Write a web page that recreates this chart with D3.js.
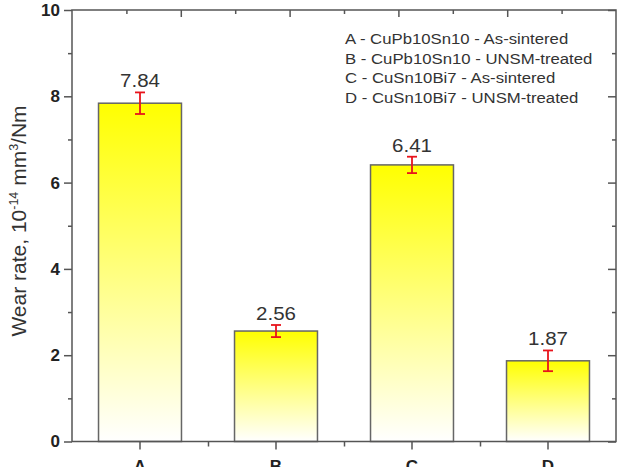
<!DOCTYPE html>
<html>
<head>
<meta charset="utf-8">
<script src="https://cdn.jsdelivr.net/npm/d3@7"></script>
<style>
  body { margin: 0; background: #fff; }
  svg { display: block; font-family: "Liberation Sans", Arial, sans-serif; }
</style>
</head>
<body>
<div id="chart-area"></div>
<script>
// data
var categories = ["A", "B", "C", "D"]
var values = [7.84, 2.56, 6.41, 1.87]
var errors = [0.25, 0.14, 0.19, 0.24]
var legendLabels = [
  "A - CuPb10Sn10 - As-sintered",
  "B - CuPb10Sn10 - UNSM-treated",
  "C - CuSn10Bi7 - As-sintered",
  "D - CuSn10Bi7 - UNSM-treated"
]
var yMajor = [0, 2, 4, 6, 8, 10]
var yMinor = [1, 3, 5, 7, 9]

var width = 624
var height = 467
var margin = {top: 10, right: 8, bottom: 25.5, left: 72}
var axisColor = "#555"
var stretch = 1.08   // the source picture is a bit wider than tall

var svg = d3.select("#chart-area").append("svg")
  .attr("width", width)
  .attr("height", height)

var defs = svg.append("defs")
var grad = defs.append("linearGradient")
  .attr("id", "barFill")
  .attr("x1", 0).attr("y1", 0).attr("x2", 0).attr("y2", 1)
grad.append("stop").attr("offset", "0%").attr("stop-color", "#ffff00")
grad.append("stop").attr("offset", "100%").attr("stop-color", "#ffffff")

var x = d3.scaleBand()
  .domain(categories)
  .range([margin.left, width - margin.right])
  .padding(0)

var xEdges = d3.scaleLinear()
  .domain([0, categories.length])
  .range([margin.left, width - margin.right])

var xTop = d3.scaleLinear()
  .domain([0, 10])
  .range([margin.left, width - margin.right])

var y = d3.scaleLinear()
  .domain([0, 10])
  .range([height - margin.bottom, margin.top])

var barW = x.bandwidth() * 0.61
var cx = i => x(categories[i]) + x.bandwidth() / 2

// bars
var g = svg.append("g")

g.selectAll("rect.bar")
  .data(values)
  .enter().append("rect")
  .attr("class", "bar")
  .attr("x", (d, i) => cx(i) - barW / 2)
  .attr("y", d => y(d))
  .attr("width", barW)
  .attr("height", d => y(0) - y(d))
  .attr("fill", "url(#barFill)")
  .attr("stroke", "#666")
  .attr("stroke-width", 1.5)

// error bars
var err = g.selectAll("g.err")
  .data(values)
  .enter().append("g")
  .attr("class", "err")
  .attr("stroke", "#e8141c")
  .attr("stroke-width", 1.8)

err.append("line")
  .attr("x1", (d, i) => cx(i))
  .attr("x2", (d, i) => cx(i))
  .attr("y1", (d, i) => y(d + errors[i]))
  .attr("y2", (d, i) => y(d - errors[i]))

err.selectAll("line.cap")
  .data((d, i) => [{i: i, v: d + errors[i]}, {i: i, v: d - errors[i]}])
  .enter().append("line")
  .attr("class", "cap")
  .attr("x1", d => cx(d.i) - 5)
  .attr("x2", d => cx(d.i) + 5)
  .attr("y1", d => y(d.v))
  .attr("y2", d => y(d.v))

// value labels
g.selectAll("text.val")
  .data(values)
  .enter().append("text")
  .attr("class", "val")
  .attr("transform", (d, i) => "translate(" + cx(i) + "," + (y(d + errors[i]) - 5) + ") scale(" + stretch + ",1)")
  .attr("text-anchor", "middle")
  .attr("font-size", "19px")
  .style("fill", "#333")
  .text(d => d.toFixed(2))

// axes
function styleAxis(sel) {
  sel.select(".domain").remove()
  sel.selectAll("line").attr("stroke", axisColor).attr("stroke-width", 1.5)
  sel.selectAll("text").style("fill", "#222")
}

var x0 = margin.left
var x1 = width - margin.right
var y0 = y(0)
var y1 = y(10)

svg.append("g")
  .attr("transform", "translate(" + x0 + ",0)")
  .call(d3.axisLeft(y).tickValues(yMajor).tickSize(8).tickPadding(4).tickFormat(d3.format("d")))
  .call(styleAxis)
  .selectAll("text")
  .attr("font-size", "17px")
  .attr("font-weight", "bold")

svg.append("g")
  .attr("transform", "translate(" + x0 + ",0)")
  .call(d3.axisLeft(y).tickValues(yMinor).tickSize(4).tickFormat(""))
  .call(styleAxis)

svg.append("g")
  .attr("transform", "translate(" + x1 + ",0)")
  .call(d3.axisRight(y).tickValues(yMajor).tickSize(-8).tickFormat(""))
  .call(styleAxis)

svg.append("g")
  .attr("transform", "translate(" + x1 + ",0)")
  .call(d3.axisRight(y).tickValues(yMinor).tickSize(-4).tickFormat(""))
  .call(styleAxis)

svg.append("g")
  .attr("transform", "translate(0," + y0 + ")")
  .call(d3.axisBottom(x).tickSize(8).tickPadding(10))
  .call(styleAxis)
  .selectAll("text")
  .attr("font-size", "17px")
  .attr("font-weight", "bold")

svg.append("g")
  .attr("transform", "translate(0," + y0 + ")")
  .call(d3.axisBottom(xEdges).tickValues([1, 2, 3]).tickSize(5).tickFormat(""))
  .call(styleAxis)

svg.append("g")
  .attr("transform", "translate(0," + y1 + ")")
  .call(d3.axisTop(xTop).tickValues([2, 4, 6, 8]).tickSize(-7).tickFormat(""))
  .call(styleAxis)

svg.append("g")
  .attr("transform", "translate(0," + y1 + ")")
  .call(d3.axisTop(xTop).tickValues([1, 3, 5, 7, 9]).tickSize(-4).tickFormat(""))
  .call(styleAxis)

// frame
svg.append("rect")
  .attr("x", x0)
  .attr("y", y1)
  .attr("width", x1 - x0)
  .attr("height", y0 - y1)
  .attr("fill", "none")
  .attr("stroke", axisColor)
  .attr("stroke-width", 1.5)

// y label
var yLabel = svg.append("text")
  .attr("transform", "translate(26,221) rotate(-90)")
  .attr("text-anchor", "middle")
  .attr("font-size", "21px")
  .style("fill", "#333")
yLabel.append("tspan").text("Wear rate, 10")
yLabel.append("tspan").attr("font-size", "12.5px").attr("dy", "-8").text("-14")
yLabel.append("tspan").attr("dy", "8").text(" mm")
yLabel.append("tspan").attr("font-size", "12.5px").attr("dy", "-8").text("3")
yLabel.append("tspan").attr("dy", "8").text("/Nm")

// legend
svg.append("g")
  .selectAll("text")
  .data(legendLabels)
  .enter().append("text")
  .attr("transform", (d, i) => "translate(345," + (44 + i * 19.7) + ") scale(" + stretch + ",1)")
  .attr("font-size", "15.5px")
  .style("fill", "#333")
  .text(d => d)
</script>
</body>
</html>
